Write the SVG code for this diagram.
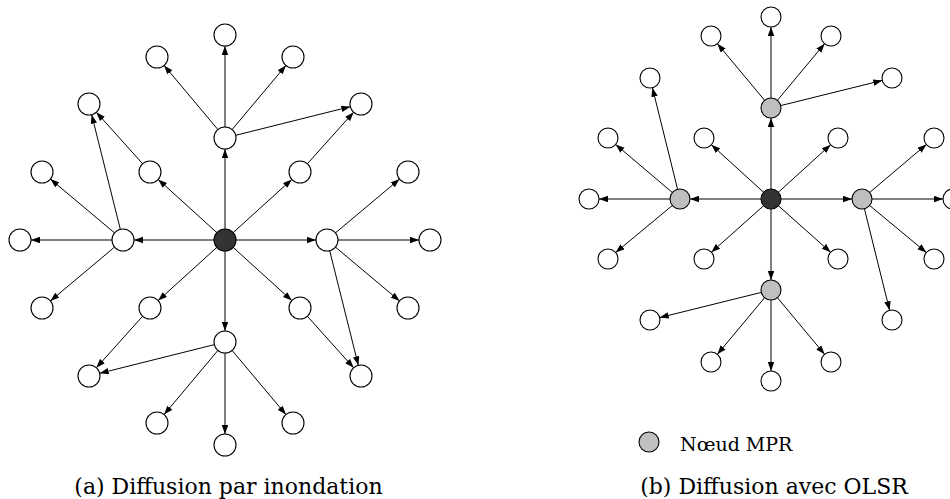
<svg xmlns="http://www.w3.org/2000/svg" width="950" height="499" viewBox="0 0 950 499">
<style>
.n{fill:#fff;stroke:#000;stroke-width:1.1}
.src{fill:#333;stroke:#000;stroke-width:1.1}
.mpr{fill:#bfbfbf;stroke:#000;stroke-width:1.1}
.e line{stroke:#000;stroke-width:1;marker-end:url(#ah)}
text{font-family:"DejaVu Serif","Liberation Serif",serif;fill:#000}
</style>
<defs>
<marker id="ah" markerUnits="userSpaceOnUse" markerWidth="10" markerHeight="7" refX="9" refY="3.25" orient="auto">
<path d="M0,0 L9,3.25 L0,6.5 z" fill="#000"/>
</marker>
</defs>
<g id="edges-a" class="e">
<line x1="225" y1="229" x2="225" y2="149"/>
<line x1="225" y1="251" x2="225" y2="331"/>
<line x1="236" y1="240" x2="316" y2="240"/>
<line x1="214" y1="240" x2="134" y2="240"/>
<line x1="216.85" y1="232.61" x2="158.15" y2="179.39"/>
<line x1="233.15" y1="232.61" x2="291.85" y2="179.39"/>
<line x1="216.85" y1="247.39" x2="158.15" y2="300.61"/>
<line x1="233.15" y1="247.39" x2="291.85" y2="300.61"/>
<line x1="225" y1="127" x2="225" y2="46"/>
<line x1="217.93" y1="129.58" x2="164.07" y2="65.42"/>
<line x1="232.07" y1="129.58" x2="285.93" y2="65.42"/>
<line x1="235.67" y1="135.33" x2="350.33" y2="106.67"/>
<line x1="307.35" y1="163.81" x2="353.65" y2="112.19"/>
<line x1="112" y1="240" x2="31" y2="240"/>
<line x1="114.58" y1="232.93" x2="50.42" y2="179.07"/>
<line x1="114.58" y1="247.07" x2="50.42" y2="300.93"/>
<line x1="120.33" y1="229.33" x2="91.67" y2="114.67"/>
<line x1="142.65" y1="163.81" x2="96.35" y2="112.19"/>
<line x1="338" y1="240" x2="419" y2="240"/>
<line x1="335.42" y1="232.93" x2="399.58" y2="179.07"/>
<line x1="335.42" y1="247.07" x2="399.58" y2="300.93"/>
<line x1="329.67" y1="250.67" x2="358.33" y2="365.33"/>
<line x1="307.35" y1="316.19" x2="353.65" y2="367.81"/>
<line x1="225" y1="353" x2="225" y2="434"/>
<line x1="217.93" y1="350.42" x2="164.07" y2="414.58"/>
<line x1="232.07" y1="350.42" x2="285.93" y2="414.58"/>
<line x1="214.33" y1="344.67" x2="99.67" y2="373.33"/>
<line x1="142.65" y1="316.19" x2="96.35" y2="367.81"/>
</g>
<g id="edges-b" class="e">
<line x1="771" y1="189" x2="771" y2="118"/>
<line x1="771" y1="209" x2="771" y2="280"/>
<line x1="761" y1="199" x2="690" y2="199"/>
<line x1="781" y1="199" x2="852" y2="199"/>
<line x1="763.61" y1="192.27" x2="711.39" y2="144.73"/>
<line x1="778.39" y1="192.27" x2="830.61" y2="144.73"/>
<line x1="763.61" y1="205.73" x2="711.39" y2="252.27"/>
<line x1="778.39" y1="205.73" x2="830.61" y2="252.27"/>
<line x1="771" y1="98" x2="771" y2="27"/>
<line x1="764.6" y1="100.32" x2="717.4" y2="43.68"/>
<line x1="777.4" y1="100.32" x2="824.6" y2="43.68"/>
<line x1="780.71" y1="105.59" x2="882.29" y2="80.41"/>
<line x1="670" y1="199" x2="599" y2="199"/>
<line x1="672.37" y1="192.54" x2="615.63" y2="144.46"/>
<line x1="672.37" y1="205.46" x2="615.63" y2="252.54"/>
<line x1="677.59" y1="189.29" x2="652.41" y2="87.71"/>
<line x1="872" y1="199" x2="943" y2="199"/>
<line x1="869.63" y1="192.54" x2="926.37" y2="144.46"/>
<line x1="869.63" y1="205.46" x2="926.37" y2="252.54"/>
<line x1="864.41" y1="208.71" x2="889.59" y2="310.29"/>
<line x1="771" y1="300" x2="771" y2="371"/>
<line x1="764.6" y1="297.68" x2="717.4" y2="354.32"/>
<line x1="777.4" y1="297.68" x2="824.6" y2="354.32"/>
<line x1="761.29" y1="292.41" x2="659.71" y2="317.59"/>
</g>
<g id="nodes-a">
<g id="a-src"><circle class="src" cx="225" cy="240" r="11"/></g>
<g id="a-u1"><circle class="n" cx="225" cy="138" r="11"/></g>
<g id="a-t"><circle class="n" cx="225" cy="35" r="11"/></g>
<g id="a-tl"><circle class="n" cx="157" cy="57" r="11"/></g>
<g id="a-tr"><circle class="n" cx="293" cy="57" r="11"/></g>
<g id="a-ur"><circle class="n" cx="361" cy="104" r="11"/></g>
<g id="a-ul"><circle class="n" cx="89" cy="104" r="11"/></g>
<g id="a-d1"><circle class="n" cx="225" cy="342" r="11"/></g>
<g id="a-b"><circle class="n" cx="225" cy="445" r="11"/></g>
<g id="a-bl"><circle class="n" cx="157" cy="423" r="11"/></g>
<g id="a-br"><circle class="n" cx="293" cy="423" r="11"/></g>
<g id="a-lr"><circle class="n" cx="361" cy="376" r="11"/></g>
<g id="a-ll"><circle class="n" cx="89" cy="376" r="11"/></g>
<g id="a-r1"><circle class="n" cx="327" cy="240" r="11"/></g>
<g id="a-fr"><circle class="n" cx="430" cy="240" r="11"/></g>
<g id="a-fru"><circle class="n" cx="408" cy="172" r="11"/></g>
<g id="a-frl"><circle class="n" cx="408" cy="308" r="11"/></g>
<g id="a-l1"><circle class="n" cx="123" cy="240" r="11"/></g>
<g id="a-fl"><circle class="n" cx="20" cy="240" r="11"/></g>
<g id="a-flu"><circle class="n" cx="42" cy="172" r="11"/></g>
<g id="a-fll"><circle class="n" cx="42" cy="308" r="11"/></g>
<g id="a-mlu"><circle class="n" cx="150" cy="172" r="11"/></g>
<g id="a-mru"><circle class="n" cx="300" cy="172" r="11"/></g>
<g id="a-mll"><circle class="n" cx="150" cy="308" r="11"/></g>
<g id="a-mrl"><circle class="n" cx="300" cy="308" r="11"/></g>
</g>
<g id="nodes-b">
<g id="b-src"><circle class="src" cx="771" cy="199" r="10"/></g>
<g id="b-u"><circle class="mpr" cx="771" cy="108" r="10"/></g>
<g id="b-l"><circle class="mpr" cx="680" cy="199" r="10"/></g>
<g id="b-r"><circle class="mpr" cx="862" cy="199" r="10"/></g>
<g id="b-d"><circle class="mpr" cx="771" cy="290" r="10"/></g>
<g id="b-t"><circle class="n" cx="771" cy="17" r="10"/></g>
<g id="b-tl"><circle class="n" cx="711" cy="36" r="10"/></g>
<g id="b-tr"><circle class="n" cx="831" cy="36" r="10"/></g>
<g id="b-ur"><circle class="n" cx="892" cy="78" r="10"/></g>
<g id="b-fl"><circle class="n" cx="589" cy="199" r="10"/></g>
<g id="b-flu"><circle class="n" cx="608" cy="138" r="10"/></g>
<g id="b-ul"><circle class="n" cx="650" cy="78" r="10"/></g>
<g id="b-fll"><circle class="n" cx="608" cy="259" r="10"/></g>
<g id="b-fr"><circle class="n" cx="953" cy="199" r="10"/></g>
<g id="b-fru"><circle class="n" cx="934" cy="138" r="10"/></g>
<g id="b-frl"><circle class="n" cx="934" cy="259" r="10"/></g>
<g id="b-lr"><circle class="n" cx="892" cy="320" r="10"/></g>
<g id="b-b"><circle class="n" cx="771" cy="381" r="10"/></g>
<g id="b-bl"><circle class="n" cx="711" cy="362" r="10"/></g>
<g id="b-br"><circle class="n" cx="831" cy="362" r="10"/></g>
<g id="b-ll"><circle class="n" cx="650" cy="320" r="10"/></g>
<g id="b-mlu"><circle class="n" cx="704" cy="138" r="10"/></g>
<g id="b-mru"><circle class="n" cx="838" cy="138" r="10"/></g>
<g id="b-mll"><circle class="n" cx="704" cy="259" r="10"/></g>
<g id="b-mrl"><circle class="n" cx="838" cy="259" r="10"/></g>
</g>
<g id="legend">
<circle class="mpr" cx="649" cy="442" r="10"/>
<text x="680" y="451" font-size="19">Nœud MPR</text>
</g>
<g id="captions">
<text x="228.5" y="494" font-size="22" text-anchor="middle">(a) Diffusion par inondation</text>
<text x="774" y="494" font-size="22" text-anchor="middle">(b) Diffusion avec OLSR</text>
</g>
</svg>
